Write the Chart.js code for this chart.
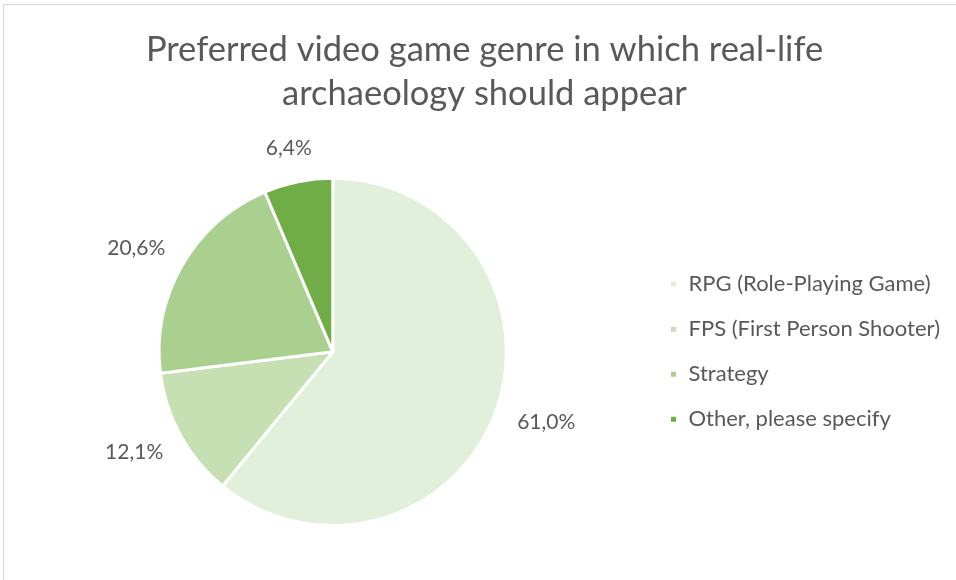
<!DOCTYPE html>
<html>
<head>
<meta charset="utf-8">
<script src="https://cdn.jsdelivr.net/npm/chart.js@4.4.0/dist/chart.umd.min.js"></script>
<style>
  html, body { margin: 0; padding: 0; background: #fff; overflow: hidden; }
  .frame {
    position: absolute; left: 3px; top: 4px; width: 970px; height: 600px;
    border: 1px solid #d9d9d9; box-sizing: border-box;
  }
  .wrap { position: absolute; left: 0; top: 0; width: 956px; height: 580px; }
</style>
</head>
<body>
<div class="frame"></div>
<div class="wrap"><canvas id="genreChart" width="956" height="580"></canvas></div>
<script>
// Survey answers, share of respondents (%)
const genres = ['RPG (Role-Playing Game)', 'FPS (First Person Shooter)', 'Strategy', 'Other, please specify'];
const shares = [61.0, 12.1, 20.6, 6.4];
const sliceColors = ['#E2EFDA', '#C6E0B4', '#A9D08E', '#70AD47'];
const titleLines = ['Preferred video game genre in which real-life', 'archaeology should appear'];

const FONT = "Lato, 'Open Sans', sans-serif";
const TEXT = '#595959';

// percentage labels just outside each slice, decimal comma
const outsideLabels = {
    id: 'outsideLabels',
    afterDatasetsDraw(chart) {
        const ctx = chart.ctx;
        const meta = chart.getDatasetMeta(0);
        ctx.save();
        ctx.font = '21px ' + FONT;
        ctx.fillStyle = TEXT;
        ctx.textAlign = 'center';
        ctx.textBaseline = 'middle';
        meta.data.forEach((arc, i) => {
            const txt = shares[i].toFixed(1).replace('.', ',') + '%';
            const w = ctx.measureText(txt).width;
            const h = 20;
            const mid = (arc.startAngle + arc.endAngle) / 2;
            const ux = Math.cos(mid), uy = Math.sin(mid);
            const r = arc.outerRadius + 24;
            const x = arc.x + ux * r + ux * w / 2;
            const y = arc.y + uy * r + uy * h / 2;
            ctx.fillText(txt, x, y);
        });
        ctx.restore();
    }
};

new Chart(document.getElementById('genreChart'), {
    type: 'pie',
    data: {
        labels: genres,
        datasets: [{
            data: shares,
            backgroundColor: sliceColors,
            borderColor: '#ffffff',
            borderWidth: 3
        }]
    },
    options: {
        responsive: false,
        animation: false,
        layout: { padding: { left: 19, right: 6, bottom: 53 } },
        plugins: {
            title: {
                display: true,
                text: titleLines,
                color: TEXT,
                font: { family: FONT, size: 34.5, weight: 'normal', lineHeight: 1.3 },
                padding: { top: 27, bottom: 60 }
            },
            legend: {
                position: 'right',
                fullSize: false,
                labels: {
                    color: TEXT,
                    font: { family: FONT, size: 22 },
                    boxWidth: 8,
                    boxHeight: 8,
                    padding: 23
                }
            },
            tooltip: { enabled: false }
        }
    },
    plugins: [outsideLabels]
});
</script>
</body>
</html>
